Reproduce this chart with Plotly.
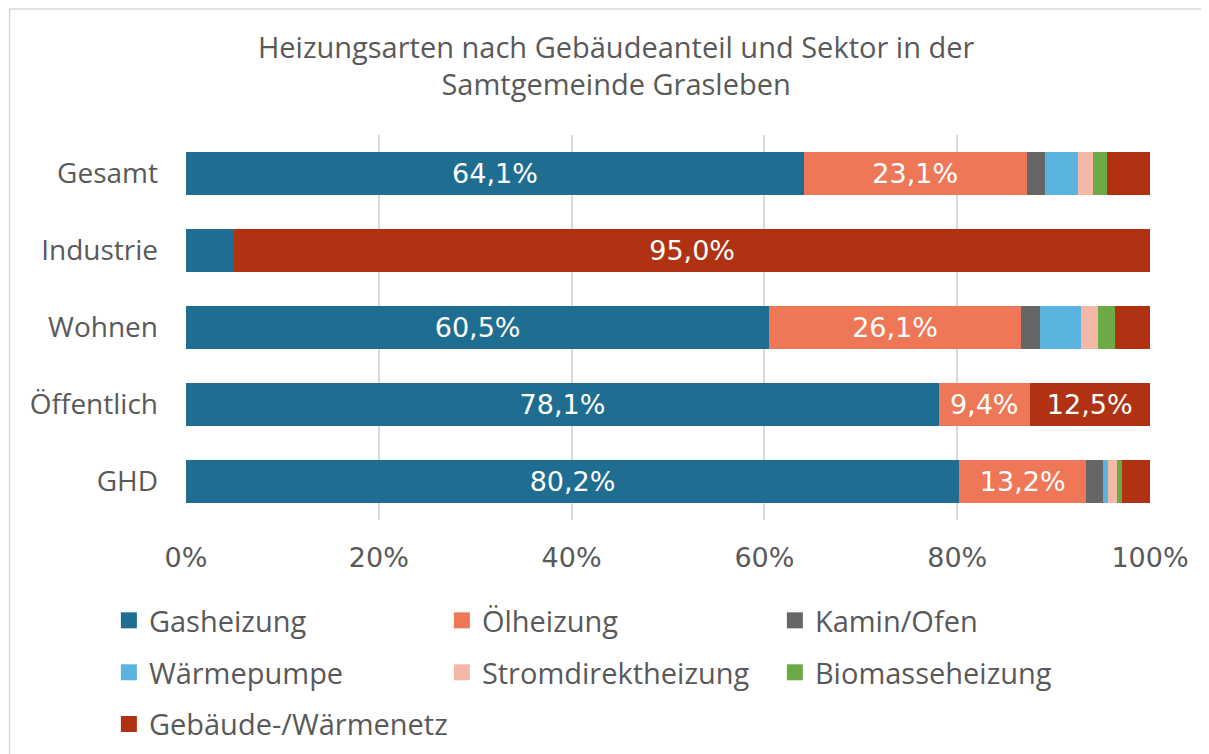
import plotly.graph_objects as go

sectors = ["Gesamt", "Industrie", "Wohnen", "Öffentlich", "GHD"]

gasheizung = [64.1, 5.0, 60.5, 78.1, 80.2]
oelheizung = [23.1, 0.0, 26.1, 9.4, 13.2]
kamin_ofen = [1.9, 0.0, 2.0, 0.0, 1.7]
waermepumpe = [3.4, 0.0, 4.2, 0.0, 0.5]
stromdirekt = [1.6, 0.0, 1.8, 0.0, 1.0]
biomasse = [1.4, 0.0, 1.8, 0.0, 0.5]
waermenetz = [4.5, 95.0, 3.6, 12.5, 2.9]

series = [
    ("Gasheizung", gasheizung, "#1F6E91"),
    ("Ölheizung", oelheizung, "#EE7757"),
    ("Kamin/Ofen", kamin_ofen, "#666666"),
    ("Wärmepumpe", waermepumpe, "#5BB4DF"),
    ("Stromdirektheizung", stromdirekt, "#F4B9A6"),
    ("Biomasseheizung", biomasse, "#6DAA45"),
    ("Gebäude-/Wärmenetz", waermenetz, "#B03212"),
]

FONT = "Open Sans, sans-serif"
NUM_FONT = "DejaVu Sans, sans-serif"  # wider digits, closer to the original
GREY = "#595959"


def label(v):
    # only the bigger segments get a data label (like in the original chart)
    if v < 9:
        return ""
    return f"{v:.1f}".replace(".", ",") + "%"


fig = go.Figure()
for i, (name, values, color) in enumerate(series):
    fig.add_trace(go.Bar(
        y=sectors,
        x=[v / 100 for v in values],
        name=name,
        orientation="h",
        marker=dict(color=color, line=dict(width=0)),
        text=[label(v) for v in values],
        textposition="inside",
        insidetextanchor="middle",
        textfont=dict(color="white", size=27, family=NUM_FONT),
        textangle=0,
        hoverinfo="skip",
        showlegend=False,
    ))
    # legend entry with a bigger square, three entries per legend row
    row = i // 3
    fig.add_trace(go.Scatter(
        x=[None], y=[None],
        mode="markers",
        name=name,
        marker=dict(symbol="square", size=17, color=color),
        legend="legend" if row == 0 else f"legend{row + 1}",
        hoverinfo="skip",
    ))

legend_rows = {}
for row, ypos in enumerate([-0.261, -0.396, -0.53]):
    key = "legend" if row == 0 else f"legend{row + 1}"
    legend_rows[key] = dict(
        orientation="h",
        x=-0.08, xanchor="left",
        y=ypos, yanchor="middle",
        # last row has only one (long) entry
        entrywidth=288 if row < 2 else 500, entrywidthmode="pixels",
        font=dict(size=29, color=GREY, family=FONT),
        traceorder="normal",
        itemsizing="trace",
        bgcolor="rgba(0,0,0,0)",
    )

fig.update_layout(
    barmode="stack",
    bargap=0.43,
    width=1209,
    height=754,
    paper_bgcolor="white",
    plot_bgcolor="white",
    margin=dict(l=178, r=67, t=127, b=242, autoexpand=False),
    font=dict(family=FONT, color=GREY, size=27),
    title=dict(
        text="Heizungsarten nach Gebäudeanteil und Sektor in der<br>Samtgemeinde Grasleben",
        x=0.503, xanchor="center", y=0.934, yanchor="top",
        font=dict(family=FONT, size=29, color=GREY),
    ),
    xaxis=dict(
        range=[0, 1],
        tickvals=[0, 0.2, 0.4, 0.6, 0.8, 1.0],
        ticktext=["0%", "20%", "40%", "60%", "80%", "100%"],
        showgrid=True, gridcolor="#D9D9D9", gridwidth=1.5,
        zeroline=False, showline=False,
        tickfont=dict(size=27, color=GREY, family=NUM_FONT),
        ticks="", ticklabelstandoff=19, automargin=False,
    ),
    yaxis=dict(
        categoryorder="array", categoryarray=sectors, autorange="reversed",
        showline=False, ticks="", ticklabelstandoff=27, automargin=False,
        tickfont=dict(size=28, color=GREY),
    ),
    uniformtext=dict(minsize=10, mode="show"),
    shapes=[dict(
        type="rect", xref="paper", yref="paper",
        x0=-0.183, x1=1.056, y0=-0.7, y1=1.327,
        line=dict(color="#D9D9D9", width=1.5), fillcolor="rgba(0,0,0,0)",
        layer="below",
    )],
    **legend_rows,
)

fig.write_html("out.html")
